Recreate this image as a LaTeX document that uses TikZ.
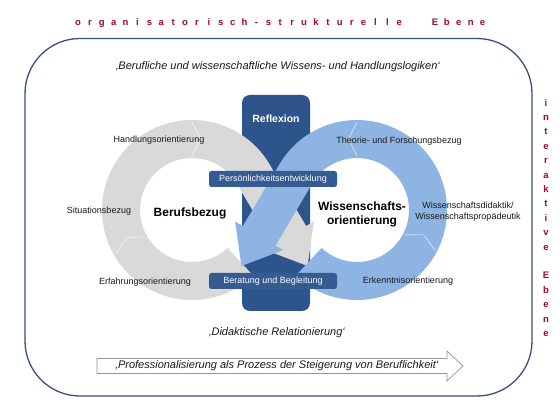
\documentclass[tikz,border=0pt]{standalone}
\usepackage{fontspec}
\setmainfont{Liberation Sans}
\usetikzlibrary{calc}
\definecolor{ringgray}{RGB}{217,217,217}
\definecolor{ringblue}{RGB}{141,180,226}
\definecolor{bardark}{RGB}{46,84,140}
\definecolor{boxdark}{RGB}{52,92,146}
\definecolor{framec}{RGB}{56,80,122}
\definecolor{redt}{RGB}{165,10,35}
\definecolor{txt}{RGB}{25,25,25}
\definecolor{arrowc}{RGB}{150,150,150}
\newcommand\pitchchar[1]{\makebox[11.9pt]{#1}}
\begin{document}
\begin{tikzpicture}[x=1pt,y=1pt,
  lbl/.style={font=\fontsize{9}{10.5}\selectfont, text=txt, inner sep=0pt, align=center},
  big/.style={font=\bfseries\fontsize{12}{14.5}\selectfont, text=black, align=center, inner sep=0pt},
  quote/.style={font=\itshape\fontsize{11}{13}\selectfont, text=txt, inner sep=0pt},
  redtxt/.style={font=\bfseries\fontsize{9.5}{10}\selectfont, text=redt, inner sep=0pt},
  barbox/.style={fill=bardark, rounded corners=8pt, minimum width=68pt, minimum height=216pt, inner sep=0pt},
  smallbox/.style={fill=boxdark, rounded corners=2.5pt, minimum width=128pt, minimum height=16pt, inner sep=0pt, text=white, font=\fontsize{9}{10}\selectfont},
  notch/.style={white, line width=0.9pt, opacity=0.5, line join=miter}
]
\useasboundingbox (0,0) rectangle (560,420);
\fill[white] (0,0) rectangle (560,420);

% title
\node[redtxt] (title) at (280.3,397) {\foreach \c in {o,r,g,a,n,i,s,a,t,o,r,i,s,c,h,-,s,t,r,u,k,t,u,r,e,l,l,e,{},{},E,b,e,n,e}{\pitchchar{\c}}};

% vertical text
\node[redtxt, align=center, font=\bfseries\fontsize{9.5}{14.4}\selectfont] (side) at (546,202)
  {i\\n\\t\\e\\r\\a\\k\\t\\i\\v\\e\\[14.4pt]E\\b\\e\\n\\e};

% frame
\draw[framec, line width=1.3pt, rounded corners=55pt] (25,24) rectangle (532,381.5);

% central bar
\node[barbox] (bar) at (276,217) {};

% gray loop (Berufsbezug)
\begin{scope}[shift={(192,210)}]
  \fill[ringgray] (-47:90) arc[start angle=-47, end angle=-329.4, radius=90]
    -- (114.2,-16.1) -- (121.9,-11.5) -- (115.6,-56) -- (73.7,-40.1) -- (81.4,-35.5)
    -- (30.6:52) arc[start angle=30.6, end angle=313, radius=52] -- cycle;
  \draw[notch] (90:88) -- (83:71) -- (90:54);
  \draw[notch] (209.8:88) -- (202.8:71) -- (209.8:54);
  \coordinate (gc) at (0,0);
\end{scope}

% blue loop (Wissenschaftsorientierung)
\begin{scope}[shift={(357,210)}]
  \fill[ringblue] (227:90) arc[start angle=227, end angle=509.4, radius=90]
    -- (-114.2,-16.1) -- (-121.9,-11.5) -- (-115.6,-56) -- (-73.7,-40.1) -- (-81.4,-35.5)
    -- (149.4:52) arc[start angle=149.4, end angle=-133, radius=52] -- cycle;
  \draw[notch] (90:88) -- (97:71) -- (90:54);
  \draw[notch] (-27.4:88) -- (-20.4:71) -- (-27.4:54);
  \coordinate (bc) at (0,0);
\end{scope}

% boxes on the bar
\node[font=\bfseries\fontsize{10.5}{12}\selectfont, text=white, inner sep=0pt] (refl) at (276,301) {Reflexion};
\node[smallbox] (pers) at (273,241) {Persönlichkeitsentwicklung};
\node[smallbox] (ber) at (273,139) {Beratung und Begleitung};

% ring labels
\node[big] (berufs) at (190,207) {Berufsbezug};
\node[big] (wiss) at (362,205.5) {Wissenschafts-\\orientierung};
\node[lbl] (hand) at (159,280) {Handlungsorientierung};
\node[lbl] (sit) at (99,209) {Situationsbezug};
\node[lbl] (erf) at (145,138) {Erfahrungsorientierung};
\node[lbl] (theo) at (399,279) {Theorie- und Forschungsbezug};
\node[lbl] (did) at (468,208.5) {Wissenschaftsdidaktik/\\Wissenschaftspropädeutik};
\node[lbl] (erk) at (408,139) {Erkenntnisorientierung};

% quotes
\node[quote] (logik) at (278,353) {‚Berufliche und wissenschaftliche Wissens- und Handlungslogiken‘};
\node[quote] (relat) at (277,87) {‚Didaktische Relationierung‘};

% process arrow
\draw[arrowc, fill=white, line width=0.7pt] (97,46.5) -- (447,46.5) -- (447,39) -- (463,54) -- (447,69) -- (447,61.5) -- (97,61.5) -- cycle;
\node[quote] (prof) at (277,54.5) {‚Professionalisierung als Prozess der Steigerung von Beruflichkeit‘};
\end{tikzpicture}
\end{document}
